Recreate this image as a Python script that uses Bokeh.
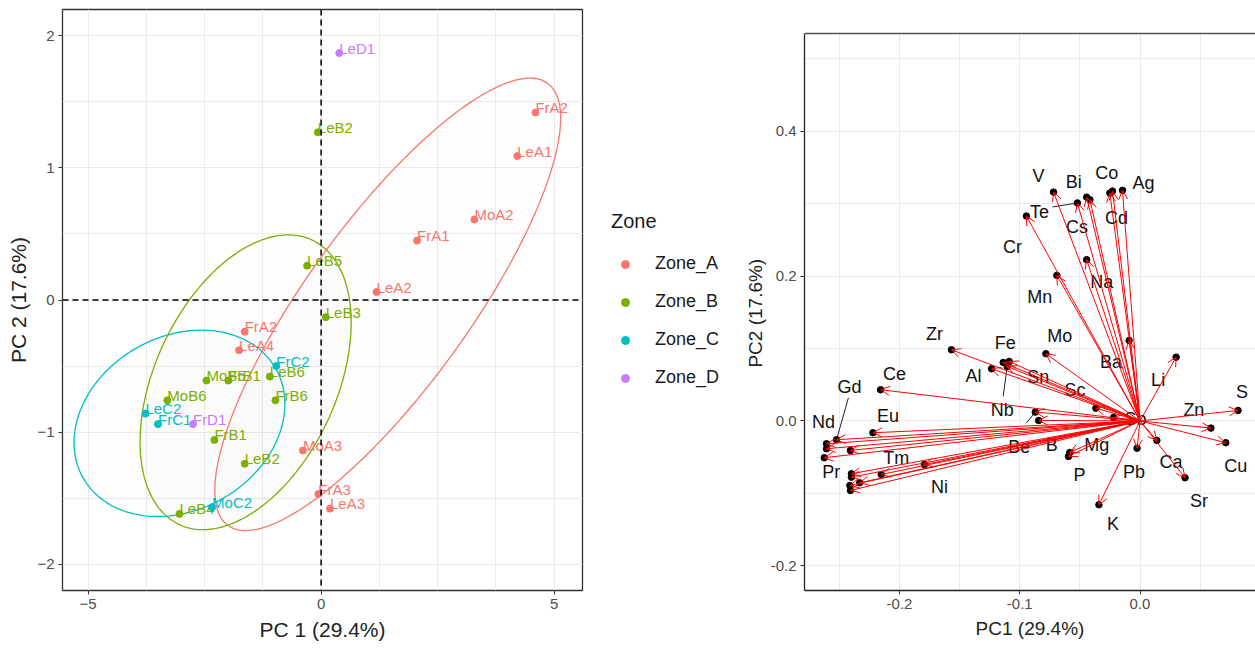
import numpy as np
from bokeh.plotting import figure
from bokeh.models import (Range1d, ColumnDataSource, Span, Legend, LegendItem, Arrow,
                          OpenHead, FixedTicker, BoxAnnotation)
from bokeh.layouts import row
from bokeh.embed import file_html
from bokeh.resources import INLINE
from bokeh.core.properties import value

FONT = "Liberation Sans"

# ---------------- Individuals (left panel) ----------------
samples = ["LeD1", "LeB2", "FrA2", "LeA1", "MoA2", "FrA1", "LeB5", "LeA2", "LeB3",
           "FrA2", "LeA4", "FrC2", "MoB5", "FrB1", "LeB6", "FrB6", "MoB6", "LeC2",
           "FrC1", "FrD1", "FrB1", "MoA3", "LeB2", "FrA3", "LeA3", "LeB4", "MoC2"]
zones = ["Zone_D", "Zone_B", "Zone_A", "Zone_A", "Zone_A", "Zone_A", "Zone_B", "Zone_A", "Zone_B",
         "Zone_A", "Zone_A", "Zone_C", "Zone_B", "Zone_B", "Zone_B", "Zone_B", "Zone_B", "Zone_C",
         "Zone_C", "Zone_D", "Zone_B", "Zone_A", "Zone_B", "Zone_A", "Zone_A", "Zone_B", "Zone_C"]
pc1 = [0.39, -0.07, 4.60, 4.21, 3.29, 2.06, -0.30, 1.19, 0.10,
       -1.64, -1.76, -0.96, -2.46, -1.99, -1.10, -0.98, -3.30, -3.77,
       -3.50, -2.75, -2.29, -0.39, -1.64, -0.06, 0.19, -3.04, -2.34]
pc2 = [1.87, 1.27, 1.42, 1.09, 0.61, 0.45, 0.26, 0.06, -0.13,
       -0.24, -0.38, -0.50, -0.61, -0.61, -0.58, -0.76, -0.76, -0.86,
       -0.94, -0.94, -1.06, -1.14, -1.24, -1.47, -1.58, -1.62, -1.57]

zone_names = ["Zone_A", "Zone_B", "Zone_C", "Zone_D"]
zone_colors = ["#F8766D", "#7CAE00", "#00BFC4", "#C77CFF"]

# concentration ellipses (centre + two conjugate semi-diameters)
ell_zone = ["Zone_A", "Zone_B", "Zone_C"]
ell_cx = [1.43, -1.62, -3.04]
ell_cy = [-0.033, -0.623, -0.934]
ell_ux = [3.43, 1.421, 2.069]
ell_uy = [1.674, 1.078, 0.413]
ell_vx = [1.416, 1.764, 0.916]
ell_vy = [-0.364, -0.289, -0.572]

# ---------------- Variables (right panel) ----------------
variables = ["V", "Te", "Bi", "Cs", "Co", "Cd", "Ag", "Cr", "Na", "Mn", "Ba", "Zr", "Fe",
             "Al", "Nb", "Sn", "Mo", "Sc", "Be", "B", "Sb", "Ce", "Eu", "Gd", "Nd", "La",
             "Pr", "Sm", "Tm", "Ni", "Tb", "Dy", "Ho", "Er", "Yb", "Mg", "P", "K", "Pb",
             "Ca", "Sr", "Cu", "Zn", "S", "Li"]
load1 = [-0.0719, -0.0521, -0.0444, -0.0417, -0.0251, -0.0229, -0.0146, -0.0945, -0.0444,
         -0.0692, -0.0091, -0.1568, -0.1138, -0.1235, -0.1105, -0.1088, -0.0783, -0.0367,
         -0.0871, -0.0843, -0.0220, -0.2157, -0.2221, -0.2524, -0.2607, -0.2607, -0.2626,
         -0.2408, -0.2152, -0.1793, -0.2400, -0.2400, -0.2413, -0.2408, -0.2331, -0.0584,
         -0.0595, -0.0342, -0.0025, 0.0140, 0.0374, 0.0713, 0.0589, 0.0815, 0.0300]
load2 = [0.3160, 0.3010, 0.3090, 0.3055, 0.3146, 0.3174, 0.3184, 0.2829, 0.2227,
         0.2010, 0.1112, 0.0983, 0.0808, 0.0721, 0.0753, 0.0822, 0.0928, 0.0177,
         0.0122, 0.0007, 0.0048, 0.0431, -0.0163, -0.0260, -0.0315, -0.0384, -0.0508,
         -0.0407, -0.0739, -0.0601, -0.0729, -0.0776, -0.0891, -0.0960, -0.0854, -0.0435,
         -0.0490, -0.1157, -0.0376, -0.0269, -0.0785, -0.0301, -0.0099, 0.0145, 0.0881]

# repelled label placement (screen pixel offsets from the arrow tip)
label_offset = {
    "V": (-15, -16), "Bi": (-13, -15), "Co": (-3, -20), "Ag": (21, -7), "Te": (-38, 9),
    "Cs": (-13, 27), "Cd": (4, 27), "Cr": (-14, 31), "Na": (15, 22), "Mn": (-17, 22),
    "Ba": (-18, 22), "Zr": (-17, -16), "Fe": (2, -19), "Al": (-18, 7), "Mo": (14, -18),
    "Sn": (29, 16), "Nb": (-5, 44), "Sc": (-21, -18), "Be": (-16, 35), "B": (13, 25),
    "Mg": (27, -7), "P": (11, 19), "K": (14, 19), "Pb": (-3, 24), "Ca": (14, 22),
    "Sr": (14, 23), "Cu": (10, 23), "Zn": (-17, -18), "S": (4, -18), "Li": (-18, 23),
    "Sb": (22, 2), "Ce": (14, -16), "Eu": (15, -17), "Gd": (13, -53), "Nd": (-3, -22),
    "Pr": (7, 14), "Tm": (15, -16), "Ni": (15, 23),
}
leader_end = {"Te": (-25, 4), "Gd": (12, -42), "Nb": (-4, 30), "Be": (-9, 11)}

# ================= LEFT FIGURE =================
LX = (-5.55, 5.61)
LY = (-2.20, 2.20)
p1 = figure(width=600, height=655, x_range=Range1d(*LX), y_range=Range1d(*LY), title=None,
            output_backend="svg", toolbar_location=None,
            min_border_left=62, min_border_right=18, min_border_top=9, min_border_bottom=65)
p1.background_fill_color = "white"
p1.border_fill_color = "white"
p1.outline_line_color = "#333333"
p1.outline_line_width = 1.3

p1.xaxis.ticker = FixedTicker(ticks=[-5, 0, 5], minor_ticks=[-3.75, -2.5, -1.25, 1.25, 2.5, 3.75])
p1.yaxis.ticker = FixedTicker(ticks=[-2, -1, 0, 1, 2], minor_ticks=[-1.5, -0.5, 0.5, 1.5])
p1.xaxis.major_label_overrides = {-5: "\u22125", 0: "0", 5: "5"}
p1.yaxis.major_label_overrides = {-2: "\u22122", -1: "\u22121", 0: "0", 1: "1", 2: "2"}
for g in (p1.xgrid, p1.ygrid):
    g.grid_line_color = "#EBEBEB"
    g.grid_line_width = 1.1
    g.minor_grid_line_color = "#EBEBEB"
    g.minor_grid_line_width = 1.0
p1.axis.axis_line_color = None
p1.axis.major_tick_line_color = "#333333"
p1.axis.major_tick_in = 0
p1.axis.major_tick_out = 4
p1.axis.minor_tick_line_color = None
p1.axis.major_label_text_font = FONT
p1.axis.major_label_text_font_size = "15px"
p1.axis.major_label_text_color = "#4D4D4D"
p1.axis.major_label_standoff = 4
p1.axis.axis_label_text_font = FONT
p1.axis.axis_label_text_font_size = "21px"
p1.axis.axis_label_text_font_style = "normal"
p1.axis.axis_label_text_color = "#222222"
p1.xaxis.axis_label = "PC 1 (29.4%)"
p1.yaxis.axis_label = "PC 2 (17.6%)"
p1.xaxis.axis_label_standoff = 6
p1.yaxis.axis_label_standoff = 4

# ellipses
t = np.linspace(0, 2 * np.pi, 240)
for i, z in enumerate(ell_zone):
    col = zone_colors[zone_names.index(z)]
    ex = ell_cx[i] + ell_ux[i] * np.cos(t) + ell_vx[i] * np.sin(t)
    ey = ell_cy[i] + ell_uy[i] * np.cos(t) + ell_vy[i] * np.sin(t)
    p1.patch(ex, ey, fill_color="#B0B0B0", fill_alpha=0.03, line_color=col, line_width=1.3)

p1.add_layout(Span(location=0, dimension="height", line_color="black",
                   line_dash="6 4", line_width=1.5))
p1.add_layout(Span(location=0, dimension="width", line_color="black",
                   line_dash="6 4", line_width=1.5))

for z, col in zip(zone_names, zone_colors):
    idx = [i for i, zz in enumerate(zones) if zz == z]
    src = ColumnDataSource(dict(x=[pc1[i] for i in idx], y=[pc2[i] for i in idx],
                                name=[samples[i] for i in idx]))
    p1.scatter("x", "y", source=src, size=7, color=col)
    p1.text("x", "y", text="name", source=src, text_color=col, text_font=value(FONT),
            text_font_size="15px", text_align="left", text_baseline="middle",
            x_offset=0, y_offset=-5)

# ================= LEGEND FIGURE =================
# ranges chosen so that the proxy points of the legend stay out of view
pl = figure(width=141, height=655, x_range=Range1d(100, 101), y_range=Range1d(100, 101),
            title=None, output_backend="svg", toolbar_location=None,
            min_border_left=0, min_border_right=0, min_border_top=0, min_border_bottom=0)
pl.axis.visible = False
pl.grid.visible = False
pl.outline_line_color = None
pl.background_fill_color = "white"
pl.border_fill_color = "white"
items = []
for z, col in zip(zone_names, zone_colors):
    idx = [i for i, zz in enumerate(zones) if zz == z]
    r = pl.scatter([pc1[i] for i in idx], [pc2[i] for i in idx], size=8, color=col)
    items.append(LegendItem(label=z, renderers=[r]))
legend = Legend(items=items, title="Zone", location=(11, 202),
                title_text_font=FONT, title_text_font_size="20px", title_text_color="#1a1a1a",
                title_text_font_style="normal",
                label_text_font=FONT, label_text_font_size="18px", label_text_color="#1a1a1a",
                glyph_width=28, glyph_height=20, label_height=20, label_standoff=16,
                spacing=17, title_standoff=20, padding=10, margin=0,
                border_line_color=None, background_fill_alpha=0)
pl.add_layout(legend)

# ================= RIGHT FIGURE =================
# panel box of the reference: top edge at 0.535, cut off on the right
PANEL_TOP = 0.535
PPX, PPY = 1210.7, 724.2          # pixels per data unit of the right panel
RX = (-0.279, 0.096)
RY = (PANEL_TOP - 557 / PPY, PANEL_TOP + 24 / PPY)

p2 = figure(width=514, height=655, x_range=Range1d(*RX), y_range=Range1d(*RY), title=None,
            output_backend="svg", toolbar_location=None,
            min_border_left=60, min_border_right=0, min_border_top=9, min_border_bottom=65)
p2.background_fill_color = "white"
p2.border_fill_color = "white"
p2.outline_line_color = None
p2.xaxis.ticker = FixedTicker(ticks=[-0.2, -0.1, 0.0], minor_ticks=[-0.25, -0.15, -0.05, 0.05])
p2.yaxis.ticker = FixedTicker(ticks=[-0.2, 0.0, 0.2, 0.4], minor_ticks=[-0.1, 0.1, 0.3, 0.5])
p2.xaxis.major_label_overrides = {-0.2: "-0.2", -0.1: "-0.1", 0: "0.0"}
p2.yaxis.major_label_overrides = {-0.2: "-0.2", 0: "0.0", 0.2: "0.2", 0.4: "0.4"}
p2.yaxis.bounds = (RY[0], PANEL_TOP)
for g in (p2.xgrid, p2.ygrid):
    g.grid_line_color = "#EBEBEB"
    g.grid_line_width = 1.1
    g.minor_grid_line_color = "#EBEBEB"
    g.minor_grid_line_width = 1.0
p2.axis.axis_line_color = "#222222"
p2.axis.axis_line_width = 1.3
p2.axis.major_tick_line_color = "#333333"
p2.axis.major_tick_in = 0
p2.axis.major_tick_out = 4
p2.axis.minor_tick_line_color = None
p2.axis.major_label_text_font = FONT
p2.axis.major_label_text_font_size = "15px"
p2.axis.major_label_text_color = "#4D4D4D"
p2.axis.major_label_standoff = 4
p2.axis.axis_label_text_font = FONT
p2.axis.axis_label_text_font_size = "19px"
p2.axis.axis_label_text_font_style = "normal"
p2.axis.axis_label_text_color = "#222222"
p2.xaxis.axis_label = "PC1 (29.4%)"
p2.yaxis.axis_label = "PC2 (17.6%)" + "\u00a0" * 5
p2.xaxis.axis_label_standoff = 6
p2.yaxis.axis_label_standoff = 2

# blank strip above the panel box and its top edge
p2.add_layout(BoxAnnotation(bottom=PANEL_TOP, fill_color="white", fill_alpha=1.0,
                            line_color=None))
p2.add_layout(Span(location=PANEL_TOP, dimension="width", line_color="#555555",
                   line_width=1.3))

# labels (drawn under the arrows)
lab = [v for v in variables if v in label_offset]
lsrc = ColumnDataSource(dict(
    x=[load1[variables.index(v)] for v in lab],
    y=[load2[variables.index(v)] for v in lab],
    text=lab,
    dx=[label_offset[v][0] for v in lab],
    dy=[label_offset[v][1] for v in lab]))
p2.text("x", "y", text="text", source=lsrc, x_offset="dx", y_offset="dy",
        text_font=value(FONT), text_font_size="18px", text_color="#111111",
        text_align="center", text_baseline="middle")

# leader segments
lx0, ly0, lx1, ly1 = [], [], [], []
for v, (sx, sy) in leader_end.items():
    i = variables.index(v)
    lx0.append(load1[i]); ly0.append(load2[i])
    lx1.append(load1[i] + sx / PPX); ly1.append(load2[i] - sy / PPY)
p2.segment(lx0, ly0, lx1, ly1, line_color="#222222", line_width=1)

n = len(variables)
asrc = ColumnDataSource(dict(x0=[0.0] * n, y0=[0.0] * n, x1=load1, y1=load2))
p2.add_layout(Arrow(end=OpenHead(size=9, line_color="red", line_width=1),
                    x_start="x0", y_start="y0", x_end="x1", y_end="y1",
                    source=asrc, line_color="red", line_width=1))
p2.scatter(load1, load2, size=6.5, color="black")

layout = row(p1, pl, p2)
open("out.html", "w").write(file_html(layout, INLINE))
